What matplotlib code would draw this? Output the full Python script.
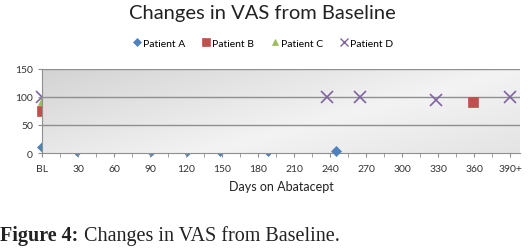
import numpy as np
import matplotlib
matplotlib.use("Agg")
import matplotlib.pyplot as plt
from matplotlib.lines import Line2D
from matplotlib.colors import LinearSegmentedColormap

plt.rcParams.update({"font.family": "Lato", "font.size": 7.5})

# data (days on abatacept, VAS)
patients = ["Patient A", "Patient B", "Patient C", "Patient D"]
days_a = [0, 29, 91, 121, 148, 188, 245]
vas_a = [10, 3, 3, 3, 3, 3, 3]
days_b = [0, 359]
vas_b = [75, 90]
days_c = [0]
vas_c = [93]
days_d = [0, 237, 265, 328, 390]
vas_d = [100, 100, 100, 95, 100]

tick_days = list(range(0, 391, 30))
tick_labels = ["BL"] + [str(d) for d in tick_days[1:-1]] + ["390+"]

colors = ["#4F81BD", "#C0504D", "#9BBB59", "#8064A2"]
markers = ["D", "s", "^", "x"]
sizes = [5, 7, 6, 8]

fig = plt.figure(figsize=(5.28, 2.51), dpi=100)
ax = fig.add_axes([0.0795, 0.386, 0.905, 0.337])
ax.set_xlim(0, 398)
ax.set_ylim(0, 150)

# diagonal grey gradient for the plot area (it covers markers on the edges)
bg = LinearSegmentedColormap.from_list(
    "bg", [(0.0, "#d3d3d3"), (0.6, "#f3f3f3"), (1.0, "#e4e4e4")])
yy, xx = np.mgrid[0:1:100j, 0:1:200j]
grad = 0.6 * xx + 0.4 * yy
ax.imshow(grad, extent=(0, 398, 0, 150), origin="upper", aspect="auto",
          cmap=bg, vmin=0, vmax=1, zorder=1)

for y in (50, 100, 150):
    ax.axhline(y, color="#8f8f8f", lw=1.0, zorder=2)

series = [(days_a, vas_a), (days_b, vas_b), (days_c, vas_c), (days_d, vas_d)]
for (dx, vy), c, m, s in zip(series, colors, markers, sizes):
    dx = np.array(dx)
    vy = np.array(vy)
    hidden = (dx == 0) | (dx < 200) & (vy < 5)
    mew = 1.2 if m == "x" else 0.5
    ax.plot(dx[hidden], vy[hidden], ls="none", marker=m, ms=s, color=c,
            mew=mew, clip_on=False, zorder=0.5)
    ax.plot(dx[~hidden], vy[~hidden], ls="none", marker=m, ms=s, color=c,
            mew=mew, clip_on=False, zorder=3)

ax.set_xticks(tick_days)
ax.set_xticklabels(tick_labels)
ax.set_xticks([d + 15 for d in tick_days[:-1]], minor=True)
ax.set_yticks([0, 50, 100, 150])
ax.tick_params(axis="both", which="both", length=3, color="#8f8f8f",
               labelsize=7.5, labelcolor="#333333")
ax.tick_params(axis="x", pad=5)
for side in ("top", "right"):
    ax.spines[side].set_visible(False)
ax.spines["left"].set_color("#8f8f8f")
ax.spines["bottom"].set_color("#8f8f8f")
ax.spines["bottom"].set_zorder(2.5)
ax.set_xlabel("Days on Abatacept", fontsize=9, color="#222222", labelpad=5)

fig.text(0.497, 0.945, "Changes in VAS from Baseline", ha="center", va="center",
         fontsize=14.5, color="#222222")

handles = [Line2D([], [], ls="none", marker=m, ms=s * 0.8, color=c,
                  mew=1.0 if m == "x" else 0.5)
           for c, m, s in zip(colors, markers, sizes)]
fig.legend(handles, patients, loc="center", bbox_to_anchor=(0.497, 0.825),
           ncol=4, frameon=False, fontsize=7.5, handletextpad=0.1,
           columnspacing=1.5, handlelength=1.0)

# caption below the chart
cap1 = fig.text(0.0, 0.058, "Figure 4:", fontsize=14.5, family="Liberation Serif",
                fontweight="bold", va="center", color="#222222")
fig.canvas.draw()
bb = cap1.get_window_extent()
fig.text(bb.x1 / fig.bbox.width + 0.01, 0.058, "Changes in VAS from Baseline.",
         fontsize=14.5, family="Liberation Serif", va="center", color="#222222")

fig.savefig("out.png", dpi=100)
